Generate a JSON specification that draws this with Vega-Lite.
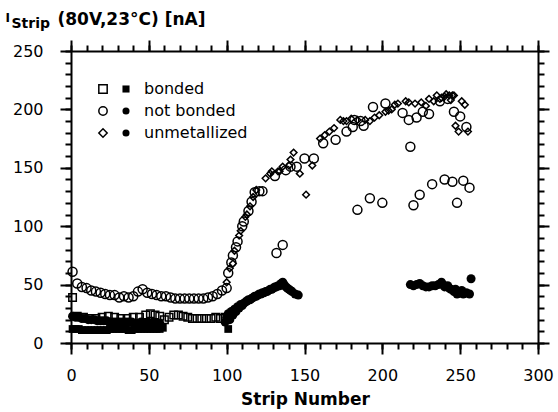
{
  "$schema": "https://vega.github.io/schema/vega-lite/v6.json",
  "width": 467,
  "height": 292,
  "autosize": {"type": "none"},
  "padding": {"left": 71, "top": 51, "right": 20, "bottom": 69},
  "background": "white",
  "config": {
    "view": {"stroke": null},
    "font": "DejaVu Sans",
    "axis": {
      "grid": false,
      "domainColor": "black",
      "domainWidth": 2,
      "tickColor": "black",
      "tickWidth": 2,
      "labelColor": "black",
      "titleColor": "black",
      "labelFont": "DejaVu Sans",
      "titleFont": "DejaVu Sans"
    },
    "legend": {
      "labelFont": "DejaVu Sans",
      "labelFontSize": 16,
      "labelColor": "black",
      "padding": 0,
      "rowPadding": 6
    }
  },
  "datasets": {
    "open": [
      {"strip": 1, "current": 39, "group": "bonded"},
      {"strip": 4, "current": 23, "group": "bonded"},
      {"strip": 8, "current": 22, "group": "bonded"},
      {"strip": 12, "current": 21, "group": "bonded"},
      {"strip": 16, "current": 21, "group": "bonded"},
      {"strip": 20, "current": 22, "group": "bonded"},
      {"strip": 24, "current": 23, "group": "bonded"},
      {"strip": 28, "current": 22, "group": "bonded"},
      {"strip": 32, "current": 21, "group": "bonded"},
      {"strip": 36, "current": 21, "group": "bonded"},
      {"strip": 40, "current": 22, "group": "bonded"},
      {"strip": 44, "current": 22, "group": "bonded"},
      {"strip": 48, "current": 24, "group": "bonded"},
      {"strip": 51, "current": 25, "group": "bonded"},
      {"strip": 54, "current": 24, "group": "bonded"},
      {"strip": 57, "current": 23, "group": "bonded"},
      {"strip": 60, "current": 20, "group": "bonded"},
      {"strip": 63, "current": 22, "group": "bonded"},
      {"strip": 66, "current": 24, "group": "bonded"},
      {"strip": 69, "current": 24, "group": "bonded"},
      {"strip": 72, "current": 23, "group": "bonded"},
      {"strip": 75, "current": 22, "group": "bonded"},
      {"strip": 78, "current": 21, "group": "bonded"},
      {"strip": 81, "current": 21, "group": "bonded"},
      {"strip": 84, "current": 21, "group": "bonded"},
      {"strip": 87, "current": 21, "group": "bonded"},
      {"strip": 90, "current": 21, "group": "bonded"},
      {"strip": 93, "current": 22, "group": "bonded"},
      {"strip": 96, "current": 21, "group": "bonded"},
      {"strip": 99, "current": 22, "group": "bonded"},

      {"strip": 1, "current": 61, "group": "not bonded"},
      {"strip": 4, "current": 51, "group": "not bonded"},
      {"strip": 7, "current": 48, "group": "not bonded"},
      {"strip": 10, "current": 47, "group": "not bonded"},
      {"strip": 13, "current": 45, "group": "not bonded"},
      {"strip": 16, "current": 44, "group": "not bonded"},
      {"strip": 19, "current": 43, "group": "not bonded"},
      {"strip": 22, "current": 42, "group": "not bonded"},
      {"strip": 25, "current": 41, "group": "not bonded"},
      {"strip": 28, "current": 41, "group": "not bonded"},
      {"strip": 31, "current": 39, "group": "not bonded"},
      {"strip": 34, "current": 40, "group": "not bonded"},
      {"strip": 37, "current": 39, "group": "not bonded"},
      {"strip": 40, "current": 40, "group": "not bonded"},
      {"strip": 43, "current": 44, "group": "not bonded"},
      {"strip": 46, "current": 46, "group": "not bonded"},
      {"strip": 49, "current": 43, "group": "not bonded"},
      {"strip": 52, "current": 42, "group": "not bonded"},
      {"strip": 55, "current": 41, "group": "not bonded"},
      {"strip": 58, "current": 40, "group": "not bonded"},
      {"strip": 61, "current": 40, "group": "not bonded"},
      {"strip": 64, "current": 39, "group": "not bonded"},
      {"strip": 67, "current": 38, "group": "not bonded"},
      {"strip": 70, "current": 38, "group": "not bonded"},
      {"strip": 73, "current": 38, "group": "not bonded"},
      {"strip": 76, "current": 38, "group": "not bonded"},
      {"strip": 79, "current": 38, "group": "not bonded"},
      {"strip": 82, "current": 38, "group": "not bonded"},
      {"strip": 85, "current": 38, "group": "not bonded"},
      {"strip": 88, "current": 39, "group": "not bonded"},
      {"strip": 91, "current": 40, "group": "not bonded"},
      {"strip": 94, "current": 42, "group": "not bonded"},
      {"strip": 97, "current": 45, "group": "not bonded"},
      {"strip": 100, "current": 47, "group": "not bonded"},
      {"strip": 101, "current": 60, "group": "not bonded"},
      {"strip": 103, "current": 69, "group": "not bonded"},
      {"strip": 104, "current": 75, "group": "not bonded"},
      {"strip": 106, "current": 82, "group": "not bonded"},
      {"strip": 107, "current": 87, "group": "not bonded"},
      {"strip": 110, "current": 100, "group": "not bonded"},
      {"strip": 111, "current": 104, "group": "not bonded"},
      {"strip": 114, "current": 113, "group": "not bonded"},
      {"strip": 116, "current": 121, "group": "not bonded"},
      {"strip": 118, "current": 129, "group": "not bonded"},
      {"strip": 121, "current": 130, "group": "not bonded"},
      {"strip": 123, "current": 130, "group": "not bonded"},
      {"strip": 131, "current": 143, "group": "not bonded"},
      {"strip": 132, "current": 77, "group": "not bonded"},
      {"strip": 136, "current": 84, "group": "not bonded"},
      {"strip": 138, "current": 148, "group": "not bonded"},
      {"strip": 141, "current": 151, "group": "not bonded"},
      {"strip": 145, "current": 151, "group": "not bonded"},
      {"strip": 150, "current": 158, "group": "not bonded"},
      {"strip": 156, "current": 158, "group": "not bonded"},
      {"strip": 162, "current": 171, "group": "not bonded"},
      {"strip": 170, "current": 174, "group": "not bonded"},
      {"strip": 177, "current": 181, "group": "not bonded"},
      {"strip": 181, "current": 185, "group": "not bonded"},
      {"strip": 182, "current": 191, "group": "not bonded"},
      {"strip": 184, "current": 114, "group": "not bonded"},
      {"strip": 186, "current": 190, "group": "not bonded"},
      {"strip": 188, "current": 186, "group": "not bonded"},
      {"strip": 192, "current": 124, "group": "not bonded"},
      {"strip": 194, "current": 202, "group": "not bonded"},
      {"strip": 200, "current": 120, "group": "not bonded"},
      {"strip": 202, "current": 205, "group": "not bonded"},
      {"strip": 213, "current": 197, "group": "not bonded"},
      {"strip": 217, "current": 191, "group": "not bonded"},
      {"strip": 218, "current": 168, "group": "not bonded"},
      {"strip": 220, "current": 118, "group": "not bonded"},
      {"strip": 222, "current": 193, "group": "not bonded"},
      {"strip": 224, "current": 127, "group": "not bonded"},
      {"strip": 226, "current": 198, "group": "not bonded"},
      {"strip": 230, "current": 196, "group": "not bonded"},
      {"strip": 232, "current": 136, "group": "not bonded"},
      {"strip": 237, "current": 207, "group": "not bonded"},
      {"strip": 240, "current": 140, "group": "not bonded"},
      {"strip": 242, "current": 209, "group": "not bonded"},
      {"strip": 245, "current": 138, "group": "not bonded"},
      {"strip": 246, "current": 198, "group": "not bonded"},
      {"strip": 248, "current": 120, "group": "not bonded"},
      {"strip": 250, "current": 194, "group": "not bonded"},
      {"strip": 252, "current": 139, "group": "not bonded"},
      {"strip": 254, "current": 185, "group": "not bonded"},
      {"strip": 256, "current": 133, "group": "not bonded"},

      {"strip": 100, "current": 52, "group": "unmetallized"},
      {"strip": 102, "current": 64, "group": "unmetallized"},
      {"strip": 104, "current": 68, "group": "unmetallized"},
      {"strip": 105, "current": 79, "group": "unmetallized"},
      {"strip": 108, "current": 92, "group": "unmetallized"},
      {"strip": 109, "current": 96, "group": "unmetallized"},
      {"strip": 112, "current": 108, "group": "unmetallized"},
      {"strip": 113, "current": 110, "group": "unmetallized"},
      {"strip": 115, "current": 117, "group": "unmetallized"},
      {"strip": 117, "current": 125, "group": "unmetallized"},
      {"strip": 119, "current": 131, "group": "unmetallized"},
      {"strip": 125, "current": 141, "group": "unmetallized"},
      {"strip": 128, "current": 145, "group": "unmetallized"},
      {"strip": 129, "current": 147, "group": "unmetallized"},
      {"strip": 133, "current": 147, "group": "unmetallized"},
      {"strip": 134, "current": 147, "group": "unmetallized"},
      {"strip": 136, "current": 151, "group": "unmetallized"},
      {"strip": 140, "current": 152, "group": "unmetallized"},
      {"strip": 141, "current": 157, "group": "unmetallized"},
      {"strip": 143, "current": 163, "group": "unmetallized"},
      {"strip": 147, "current": 145, "group": "unmetallized"},
      {"strip": 151, "current": 127, "group": "unmetallized"},
      {"strip": 155, "current": 152, "group": "unmetallized"},
      {"strip": 160, "current": 175, "group": "unmetallized"},
      {"strip": 163, "current": 178, "group": "unmetallized"},
      {"strip": 166, "current": 181, "group": "unmetallized"},
      {"strip": 169, "current": 184, "group": "unmetallized"},
      {"strip": 173, "current": 191, "group": "unmetallized"},
      {"strip": 175, "current": 190, "group": "unmetallized"},
      {"strip": 177, "current": 190, "group": "unmetallized"},
      {"strip": 180, "current": 192, "group": "unmetallized"},
      {"strip": 184, "current": 191, "group": "unmetallized"},
      {"strip": 189, "current": 191, "group": "unmetallized"},
      {"strip": 192, "current": 190, "group": "unmetallized"},
      {"strip": 195, "current": 193, "group": "unmetallized"},
      {"strip": 198, "current": 195, "group": "unmetallized"},
      {"strip": 202, "current": 198, "group": "unmetallized"},
      {"strip": 204, "current": 199, "group": "unmetallized"},
      {"strip": 206, "current": 200, "group": "unmetallized"},
      {"strip": 208, "current": 204, "group": "unmetallized"},
      {"strip": 210, "current": 205, "group": "unmetallized"},
      {"strip": 215, "current": 207, "group": "unmetallized"},
      {"strip": 217, "current": 206, "group": "unmetallized"},
      {"strip": 221, "current": 205, "group": "unmetallized"},
      {"strip": 225, "current": 206, "group": "unmetallized"},
      {"strip": 228, "current": 203, "group": "unmetallized"},
      {"strip": 230, "current": 209, "group": "unmetallized"},
      {"strip": 233, "current": 207, "group": "unmetallized"},
      {"strip": 235, "current": 212, "group": "unmetallized"},
      {"strip": 237, "current": 209, "group": "unmetallized"},
      {"strip": 238, "current": 210, "group": "unmetallized"},
      {"strip": 240, "current": 211, "group": "unmetallized"},
      {"strip": 241, "current": 213, "group": "unmetallized"},
      {"strip": 243, "current": 212, "group": "unmetallized"},
      {"strip": 244, "current": 208, "group": "unmetallized"},
      {"strip": 245, "current": 212, "group": "unmetallized"},
      {"strip": 246, "current": 212, "group": "unmetallized"},
      {"strip": 247, "current": 186, "group": "unmetallized"},
      {"strip": 249, "current": 181, "group": "unmetallized"},
      {"strip": 251, "current": 207, "group": "unmetallized"},
      {"strip": 253, "current": 204, "group": "unmetallized"},
      {"strip": 255, "current": 181, "group": "unmetallized"}
    ],
    "filled": [
      {"strip": 1, "current": 12, "group": "bonded"},
      {"strip": 3, "current": 12, "group": "bonded"},
      {"strip": 5, "current": 12, "group": "bonded"},
      {"strip": 7, "current": 11, "group": "bonded"},
      {"strip": 9, "current": 11, "group": "bonded"},
      {"strip": 11, "current": 11, "group": "bonded"},
      {"strip": 13, "current": 11, "group": "bonded"},
      {"strip": 15, "current": 11, "group": "bonded"},
      {"strip": 17, "current": 11, "group": "bonded"},
      {"strip": 19, "current": 11, "group": "bonded"},
      {"strip": 21, "current": 11, "group": "bonded"},
      {"strip": 23, "current": 11, "group": "bonded"},
      {"strip": 25, "current": 12, "group": "bonded"},
      {"strip": 27, "current": 12, "group": "bonded"},
      {"strip": 29, "current": 12, "group": "bonded"},
      {"strip": 31, "current": 12, "group": "bonded"},
      {"strip": 33, "current": 12, "group": "bonded"},
      {"strip": 35, "current": 12, "group": "bonded"},
      {"strip": 37, "current": 11, "group": "bonded"},
      {"strip": 39, "current": 11, "group": "bonded"},
      {"strip": 41, "current": 12, "group": "bonded"},
      {"strip": 43, "current": 12, "group": "bonded"},
      {"strip": 45, "current": 12, "group": "bonded"},
      {"strip": 47, "current": 12, "group": "bonded"},
      {"strip": 49, "current": 12, "group": "bonded"},
      {"strip": 51, "current": 12, "group": "bonded"},
      {"strip": 53, "current": 12, "group": "bonded"},
      {"strip": 55, "current": 12, "group": "bonded"},
      {"strip": 57, "current": 12, "group": "bonded"},
      {"strip": 59, "current": 13, "group": "bonded"},
      {"strip": 101, "current": 12, "group": "bonded"},

      {"strip": 1, "current": 23, "group": "not bonded"},
      {"strip": 3, "current": 22, "group": "not bonded"},
      {"strip": 5, "current": 22, "group": "not bonded"},
      {"strip": 7, "current": 21, "group": "not bonded"},
      {"strip": 9, "current": 21, "group": "not bonded"},
      {"strip": 11, "current": 20, "group": "not bonded"},
      {"strip": 13, "current": 20, "group": "not bonded"},
      {"strip": 15, "current": 20, "group": "not bonded"},
      {"strip": 17, "current": 19, "group": "not bonded"},
      {"strip": 19, "current": 19, "group": "not bonded"},
      {"strip": 21, "current": 19, "group": "not bonded"},
      {"strip": 23, "current": 19, "group": "not bonded"},
      {"strip": 25, "current": 18, "group": "not bonded"},
      {"strip": 27, "current": 18, "group": "not bonded"},
      {"strip": 29, "current": 18, "group": "not bonded"},
      {"strip": 31, "current": 18, "group": "not bonded"},
      {"strip": 33, "current": 18, "group": "not bonded"},
      {"strip": 35, "current": 18, "group": "not bonded"},
      {"strip": 37, "current": 18, "group": "not bonded"},
      {"strip": 39, "current": 18, "group": "not bonded"},
      {"strip": 41, "current": 17, "group": "not bonded"},
      {"strip": 43, "current": 17, "group": "not bonded"},
      {"strip": 45, "current": 18, "group": "not bonded"},
      {"strip": 47, "current": 17, "group": "not bonded"},
      {"strip": 49, "current": 17, "group": "not bonded"},
      {"strip": 51, "current": 17, "group": "not bonded"},
      {"strip": 53, "current": 18, "group": "not bonded"},
      {"strip": 55, "current": 17, "group": "not bonded"},
      {"strip": 57, "current": 17, "group": "not bonded"},

      {"strip": 99, "current": 18, "group": "unmetallized"},
      {"strip": 100, "current": 22, "group": "unmetallized"},
      {"strip": 101, "current": 25, "group": "unmetallized"},
      {"strip": 102, "current": 20, "group": "unmetallized"},
      {"strip": 103, "current": 27, "group": "unmetallized"},
      {"strip": 104, "current": 24, "group": "unmetallized"},
      {"strip": 105, "current": 29, "group": "unmetallized"},
      {"strip": 106, "current": 27, "group": "unmetallized"},
      {"strip": 107, "current": 31, "group": "unmetallized"},
      {"strip": 108, "current": 30, "group": "unmetallized"},
      {"strip": 109, "current": 33, "group": "unmetallized"},
      {"strip": 110, "current": 32, "group": "unmetallized"},
      {"strip": 111, "current": 34, "group": "unmetallized"},
      {"strip": 112, "current": 35, "group": "unmetallized"},
      {"strip": 113, "current": 36, "group": "unmetallized"},
      {"strip": 114, "current": 37, "group": "unmetallized"},
      {"strip": 115, "current": 37, "group": "unmetallized"},
      {"strip": 116, "current": 38, "group": "unmetallized"},
      {"strip": 117, "current": 39, "group": "unmetallized"},
      {"strip": 118, "current": 40, "group": "unmetallized"},
      {"strip": 119, "current": 40, "group": "unmetallized"},
      {"strip": 120, "current": 41, "group": "unmetallized"},
      {"strip": 121, "current": 42, "group": "unmetallized"},
      {"strip": 122, "current": 42, "group": "unmetallized"},
      {"strip": 123, "current": 43, "group": "unmetallized"},
      {"strip": 124, "current": 43, "group": "unmetallized"},
      {"strip": 125, "current": 44, "group": "unmetallized"},
      {"strip": 126, "current": 44, "group": "unmetallized"},
      {"strip": 127, "current": 45, "group": "unmetallized"},
      {"strip": 128, "current": 46, "group": "unmetallized"},
      {"strip": 129, "current": 46, "group": "unmetallized"},
      {"strip": 130, "current": 47, "group": "unmetallized"},
      {"strip": 131, "current": 48, "group": "unmetallized"},
      {"strip": 132, "current": 48, "group": "unmetallized"},
      {"strip": 133, "current": 49, "group": "unmetallized"},
      {"strip": 134, "current": 49, "group": "unmetallized"},
      {"strip": 135, "current": 51, "group": "unmetallized"},
      {"strip": 136, "current": 52, "group": "unmetallized"},
      {"strip": 137, "current": 50, "group": "unmetallized"},
      {"strip": 138, "current": 48, "group": "unmetallized"},
      {"strip": 139, "current": 47, "group": "unmetallized"},
      {"strip": 140, "current": 46, "group": "unmetallized"},
      {"strip": 141, "current": 45, "group": "unmetallized"},
      {"strip": 142, "current": 44, "group": "unmetallized"},
      {"strip": 144, "current": 42, "group": "unmetallized"},
      {"strip": 146, "current": 41, "group": "unmetallized"},
      {"strip": 218, "current": 50, "group": "unmetallized"},
      {"strip": 220, "current": 49, "group": "unmetallized"},
      {"strip": 222, "current": 50, "group": "unmetallized"},
      {"strip": 224, "current": 51, "group": "unmetallized"},
      {"strip": 226, "current": 49, "group": "unmetallized"},
      {"strip": 228, "current": 48, "group": "unmetallized"},
      {"strip": 230, "current": 48, "group": "unmetallized"},
      {"strip": 232, "current": 49, "group": "unmetallized"},
      {"strip": 234, "current": 49, "group": "unmetallized"},
      {"strip": 236, "current": 50, "group": "unmetallized"},
      {"strip": 238, "current": 52, "group": "unmetallized"},
      {"strip": 239, "current": 50, "group": "unmetallized"},
      {"strip": 240, "current": 48, "group": "unmetallized"},
      {"strip": 242, "current": 49, "group": "unmetallized"},
      {"strip": 243, "current": 47, "group": "unmetallized"},
      {"strip": 244, "current": 46, "group": "unmetallized"},
      {"strip": 246, "current": 44, "group": "unmetallized"},
      {"strip": 247, "current": 46, "group": "unmetallized"},
      {"strip": 248, "current": 42, "group": "unmetallized"},
      {"strip": 250, "current": 43, "group": "unmetallized"},
      {"strip": 251, "current": 45, "group": "unmetallized"},
      {"strip": 252, "current": 42, "group": "unmetallized"},
      {"strip": 254, "current": 43, "group": "unmetallized"},
      {"strip": 256, "current": 42, "group": "unmetallized"},
      {"strip": 257, "current": 55, "group": "unmetallized"}
    ]
  },
  "layer": [
    {
      "resolve": {"axis": {"x": "independent", "y": "independent"}},
      "layer": [
        {
          "data": {"name": "open"},
          "transform": [{"filter": "datum.group === 'bonded'"}],
          "mark": {"type": "point", "filled": false, "color": "black", "opacity": 1, "size": 56, "strokeWidth": 1.5},
          "encoding": {
            "x": {
              "field": "strip", "type": "quantitative",
              "scale": {"domain": [0, 300], "nice": false, "zero": false},
              "axis": {
                "orient": "bottom", "values": [0, 50, 100, 150, 200, 250, 300],
                "tickSize": 11, "labelPadding": 13, "labelFontSize": 16, "labelFlush": false, "labelOverlap": false,
                "title": "Strip Number", "titleFontSize": 17, "titleFontWeight": "bold",
                "titleX": 234, "titleY": 56, "titleAlign": "center", "titleBaseline": "middle"
              }
            },
            "y": {
              "field": "current", "type": "quantitative",
              "scale": {"domain": [0, 250], "nice": false, "zero": false},
              "axis": {
                "orient": "left", "values": [0, 50, 100, 150, 200, 250],
                "tickSize": 11, "labelPadding": 17, "labelFontSize": 16, "labelFlush": false, "labelOverlap": false,
                "title": "I", "titleFontSize": 12, "titleFontWeight": "bold", "titleAngle": 0,
                "titleX": -66, "titleY": -30, "titleAlign": "left", "titleBaseline": "alphabetic"
              }
            },
            "shape": {
              "field": "group", "type": "nominal",
              "scale": {"domain": ["bonded", "not bonded", "unmetallized"], "range": ["square", "circle", "diamond"]},
              "legend": {
                "orient": "none", "legendX": 24, "legendY": 30, "title": null,
                "symbolSize": 70, "symbolStrokeWidth": 1.5, "symbolStrokeColor": "black", "symbolFillColor": "white",
                "labelExpr": "''"
              }
            }
          }
        },
        {
          "data": {"name": "open"},
          "transform": [{"filter": "datum.group === 'not bonded'"}],
          "mark": {"type": "point", "filled": false, "color": "black", "opacity": 1, "size": 81, "strokeWidth": 1.5},
          "encoding": {
            "x": {
              "field": "strip", "type": "quantitative",
              "axis": {
                "orient": "bottom", "values": [0, 10, 20, 30, 40, 50, 60, 70, 80, 90, 100, 110, 120, 130, 140, 150, 160, 170, 180, 190, 200, 210, 220, 230, 240, 250, 260, 270, 280, 290, 300],
                "tickSize": 6, "labels": false, "domain": false, "title": null
              }
            },
            "y": {
              "field": "current", "type": "quantitative",
              "axis": {
                "orient": "left", "values": [0, 10, 20, 30, 40, 50, 60, 70, 80, 90, 100, 110, 120, 130, 140, 150, 160, 170, 180, 190, 200, 210, 220, 230, 240, 250],
                "tickSize": 6, "labels": false, "domain": false, "title": null
              }
            },
            "shape": {
              "field": "group", "type": "nominal",
              "legend": {
                "orient": "none", "legendX": 24, "legendY": 30, "title": null,
                "symbolSize": 70, "symbolStrokeWidth": 1.5, "symbolStrokeColor": "black", "symbolFillColor": "white",
                "labelExpr": "''"
              }
            }
          }
        },
        {
          "data": {"name": "open"},
          "transform": [{"filter": "datum.group === 'unmetallized'"}],
          "mark": {"type": "point", "filled": false, "color": "black", "opacity": 1, "size": 45, "strokeWidth": 1.5},
          "encoding": {
            "x": {"field": "strip", "type": "quantitative", "axis": null},
            "y": {"field": "current", "type": "quantitative", "axis": null},
            "shape": {
              "field": "group", "type": "nominal",
              "legend": {
                "orient": "none", "legendX": 24, "legendY": 30, "title": null,
                "symbolSize": 70, "symbolStrokeWidth": 1.5, "symbolStrokeColor": "black", "symbolFillColor": "white",
                "labelExpr": "''"
              }
            }
          }
        }
      ]
    },
    {
      "resolve": {"axis": {"x": "independent", "y": "independent"}},
      "layer": [
        {
          "data": {"name": "filled"},
          "transform": [{"filter": "datum.group === 'bonded'"}],
          "mark": {"type": "point", "filled": true, "color": "black", "opacity": 1, "size": 60},
          "encoding": {
            "x": {
              "field": "strip", "type": "quantitative",
              "axis": {
                "orient": "top", "values": [0, 50, 100, 150, 200, 250, 300],
                "tickSize": 11, "labels": false,
                "title": "Strip", "titleFontSize": 14, "titleFontWeight": "bold",
                "titleX": -60, "titleY": -24, "titleAlign": "left", "titleBaseline": "alphabetic"
              }
            },
            "y": {
              "field": "current", "type": "quantitative",
              "axis": {
                "orient": "right", "values": [0, 50, 100, 150, 200, 250],
                "tickSize": 11, "labels": false,
                "title": "(80V,23°C) [nA]", "titleFontSize": 17, "titleFontWeight": "bold", "titleAngle": 0,
                "titleX": -481, "titleY": -27, "titleAlign": "left", "titleBaseline": "alphabetic"
              }
            },
            "shape": {
              "field": "group", "type": "nominal",
              "scale": {"domain": ["bonded", "not bonded", "unmetallized"], "range": ["square", "circle", "circle"]},
              "legend": {
                "orient": "none", "legendX": 47, "legendY": 30, "title": null,
                "symbolSize": 50, "symbolFillColor": "black", "symbolStrokeColor": "black",
                "labelOffset": 10
              }
            }
          }
        },
        {
          "data": {"name": "filled"},
          "transform": [{"filter": "datum.group !== 'bonded'"}],
          "mark": {"type": "point", "filled": true, "color": "black", "opacity": 1, "size": 81},
          "encoding": {
            "x": {
              "field": "strip", "type": "quantitative",
              "axis": {
                "orient": "top", "values": [0, 10, 20, 30, 40, 50, 60, 70, 80, 90, 100, 110, 120, 130, 140, 150, 160, 170, 180, 190, 200, 210, 220, 230, 240, 250, 260, 270, 280, 290, 300],
                "tickSize": 6, "labels": false, "domain": false, "title": null
              }
            },
            "y": {
              "field": "current", "type": "quantitative",
              "axis": {
                "orient": "right", "values": [0, 10, 20, 30, 40, 50, 60, 70, 80, 90, 100, 110, 120, 130, 140, 150, 160, 170, 180, 190, 200, 210, 220, 230, 240, 250],
                "tickSize": 6, "labels": false, "domain": false, "title": null
              }
            },
            "shape": {
              "field": "group", "type": "nominal",
              "legend": {
                "orient": "none", "legendX": 47, "legendY": 30, "title": null,
                "symbolSize": 50, "symbolFillColor": "black", "symbolStrokeColor": "black",
                "labelOffset": 10
              }
            }
          }
        }
      ]
    }
  ],
  "resolve": {
    "scale": {"shape": "independent"},
    "axis": {"x": "independent", "y": "independent"}
  }
}
